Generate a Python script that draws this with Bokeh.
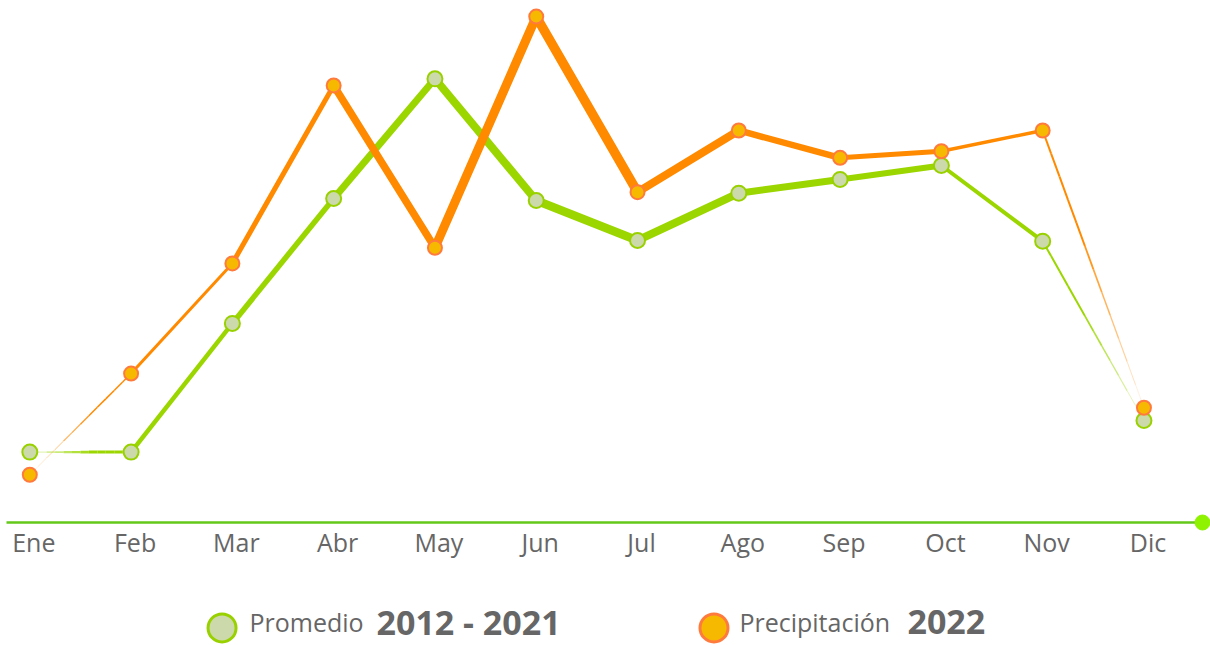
import numpy as np
from bokeh.plotting import figure
from bokeh.models import Range1d, ColumnDataSource
from bokeh.core.properties import value
from bokeh.embed import file_html
from bokeh.resources import INLINE

# ---- data ----
months = ["Ene", "Feb", "Mar", "Abr", "May", "Jun", "Jul", "Ago", "Sep", "Oct", "Nov", "Dic"]
promedio = [41.4, 41.4, 117.1, 190.6, 261.0, 189.4, 165.9, 193.7, 201.8, 210.0, 165.5, 60.0]
precip_2022 = [28.1, 87.6, 152.4, 257.1, 161.6, 297.6, 194.3, 230.6, 214.5, 218.4, 230.6, 67.5]

# ---- styles ----
GREEN_LINE = "#9BD600"
GREEN_FILL = "#CCDAAB"
GREEN_EDGE = "#99D100"
ORANGE_LINE = "#FF8A00"
ORANGE_FILL = "#F7B900"
ORANGE_EDGE = "#FF7A3D"
TEXT = "#666666"
FONT = "Open Sans"
green_widths = [3, 4.5, 5.5, 7, 8, 8.5, 8, 7, 6, 4, 2]
orange_widths = [1.5, 3, 5, 7.5, 9, 9.5, 8, 6.5, 5, 3.5, 2]

W, H = 1210, 645
p = figure(width=W, height=H, output_backend="svg", toolbar_location=None,
           x_range=Range1d(-0.2893, 11.657), y_range=Range1d(-72.35, 307.06),
           min_border=0, outline_line_color=None)
p.axis.visible = False
p.grid.visible = False
p.background_fill_color = "white"
p.border_fill_color = "white"

xs = np.arange(len(months), dtype=float)


def draw_series(vals, widths, color, fade_start, fade_end):
    x0, y0, x1, y1, lw, al = [], [], [], [], [], []
    n = len(vals)
    solid = dict(x0=[], y0=[], x1=[], y1=[], w=[])
    for i in range(n - 1):
        fade = None
        if i == 0 and fade_start:
            fade = "in"
        if i == n - 2 and fade_end:
            fade = "out"
        if fade is None:
            solid["x0"].append(xs[i]); solid["y0"].append(vals[i])
            solid["x1"].append(xs[i + 1]); solid["y1"].append(vals[i + 1])
            solid["w"].append(widths[i])
        else:
            k = 12
            t = np.linspace(0, 1, k + 1)
            for j in range(k):
                x0.append(xs[i] + (xs[i + 1] - xs[i]) * t[j])
                x1.append(xs[i] + (xs[i + 1] - xs[i]) * t[j + 1])
                y0.append(vals[i] + (vals[i + 1] - vals[i]) * t[j])
                y1.append(vals[i] + (vals[i + 1] - vals[i]) * t[j + 1])
                tm = (t[j] + t[j + 1]) / 2
                f = tm if fade == "in" else 1 - tm
                f = min(1.0, f * 1.6)
                al.append(0.1 + 0.9 * f)
                lw.append(max(0.6, widths[i] * (0.35 + 0.65 * f)))
    p.segment(x0="x0", y0="y0", x1="x1", y1="y1", line_width="w", line_color=color,
              line_cap="round", source=ColumnDataSource(solid))
    if x0:
        p.segment(x0=x0, y0=y0, x1=x1, y1=y1, line_width=lw, line_alpha=al,
                  line_color=color, line_cap="butt")


# baseline axis line with end dot
p.segment(x0=[-0.23], y0=[0], x1=[11.578], y1=[0], line_color="#63C81A", line_width=2.5)
p.scatter(x=[11.578], y=[0], size=15, fill_color="#8FF200", line_color="#8FF200")

draw_series(promedio, green_widths, GREEN_LINE, True, True)
draw_series(precip_2022, orange_widths, ORANGE_LINE, True, True)

p.scatter(x=xs, y=promedio, size=15, fill_color=GREEN_FILL, line_color=GREEN_EDGE, line_width=2)
p.scatter(x=xs, y=precip_2022, size=14, fill_color=ORANGE_FILL, line_color=ORANGE_EDGE, line_width=2)

# month labels
p.text(x=xs, y=[-11.7] * len(months), text=months, text_align="center", x_offset=4,
       text_baseline="alphabetic", text_font=value(FONT), text_font_size="25px",
       text_color=TEXT)

# legend
p.scatter(x=[1.898], y=[-62.0], size=28, fill_color=GREEN_FILL, line_color=GREEN_EDGE, line_width=3)
p.scatter(x=[6.755], y=[-62.0], size=28, fill_color=ORANGE_FILL, line_color=ORANGE_EDGE, line_width=3)
p.text(x=[2.169, 7.006], y=[-58.3, -58.3], text=["Promedio", "Precipitación"],
       text_align="left", text_baseline="alphabetic", text_font=value(FONT),
       text_font_size="25px", text_color=TEXT)
p.text(x=[3.423, 8.665], y=[-58.3, -58.3], text=["2012 - 2021", "2022"],
       text_align="left", text_baseline="alphabetic", text_font=value(FONT),
       text_font_size="34px", text_font_style="bold", text_color=TEXT)

open("out.html", "w").write(file_html(p, INLINE))
